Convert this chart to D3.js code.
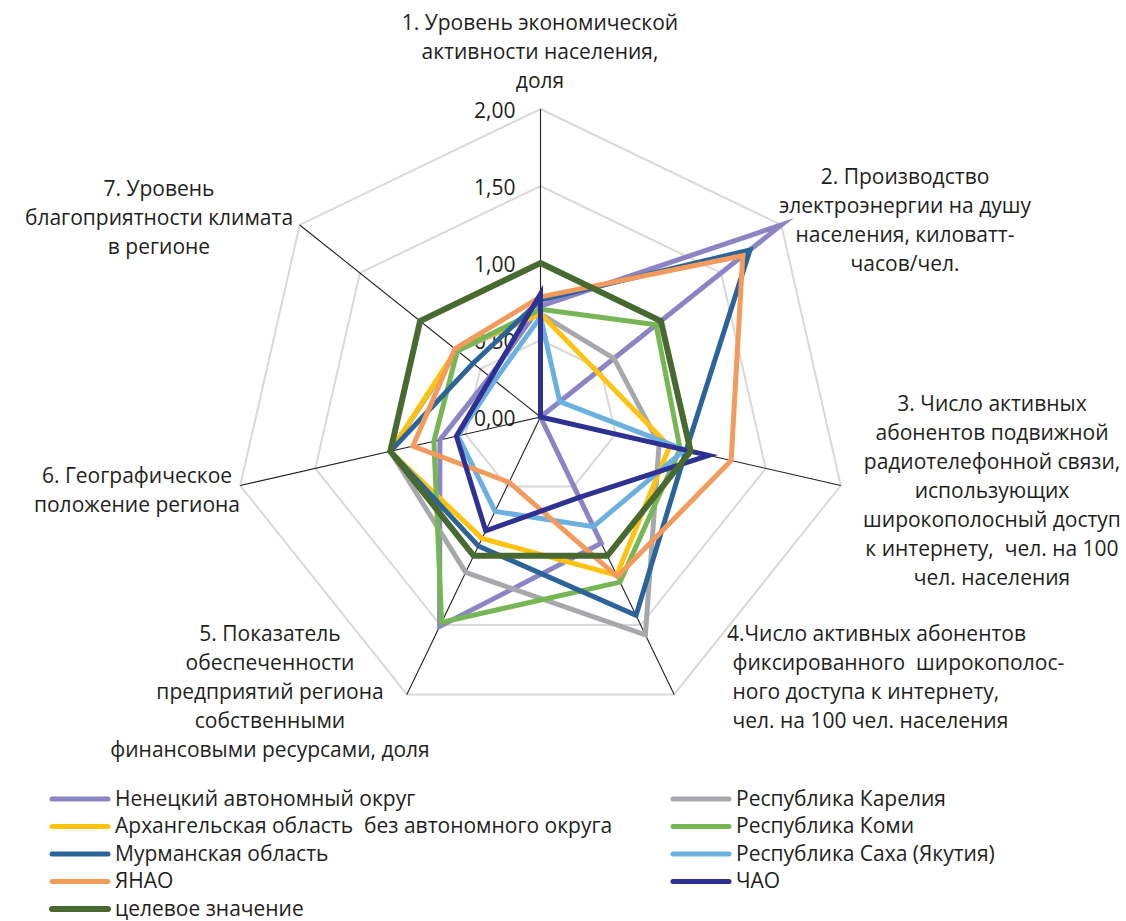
<!DOCTYPE html>
<html><head><meta charset="utf-8">
<script src="https://cdn.jsdelivr.net/npm/d3@7"></script>
<style>
body{margin:0;background:#fff;}
svg text{font-family:"Open Sans",sans-serif;fill:#231f20;white-space:pre;}
</style></head><body>
<svg id="chart" width="1126" height="921"></svg>
<script>
// ---- data ----
const categories = [
  ["1. Уровень экономической","активности населения,","доля"],
  ["2. Производство","электроэнергии на душу","населения, киловатт-","часов/чел."],
  ["3. Число активных","абонентов подвижной","радиотелефонной связи,","использующих","широкополосный доступ","к интернету,  чел. на 100","чел. населения"],
  ["4.Число активных абонентов"," фиксированного  широкополос-"," ного доступа к интернету,"," чел. на 100 чел. населения"],
  ["5. Показатель","обеспеченности","предприятий региона","собственными","финансовыми ресурсами, доля"],
  ["6. Географическое","положение региона"],
  ["7. Уровень","благоприятности климата","в регионе"]
];
const seriesNames = ["Ненецкий автономный округ","Республика Карелия","Архангельская область  без автономного округа","Республика Коми","Мурманская область","Республика Саха (Якутия)","ЯНАО","ЧАО","целевое значение"];
const nao       = [0.72, 2.00, 0.00, 0.91, 1.51, 0.67, 0.42];
const karelia   = [0.67, 0.61, 0.79, 1.57, 1.12, 1.00, 0.69];
const arkh      = [0.67, 0.47, 0.86, 1.14, 0.875, 1.00, 0.70];
const komi      = [0.70, 0.96, 0.93, 1.19, 1.48, 0.71, 0.69];
const murmansk  = [0.76, 1.74, 0.97, 1.43, 0.93, 1.00, 0.56];
const sakha     = [0.65, 0.16, 0.96, 0.79, 0.68, 0.55, 0.38];
const yanao     = [0.78, 1.68, 1.27, 1.15, 0.47, 0.85, 0.71];
const chao      = [0.80, 0.00, 1.12, 0.58, 0.82, 0.56, 0.41];
const target    = [1.00, 1.00, 1.00, 1.00, 1.00, 1.00, 1.00];
const tickValues = [0, 0.5, 1, 1.5, 2];
const tickLabels = ["0,00","0,50","1,00","1,50","2,00"];

// ---- styles / layout ----
const seriesValues = [nao, karelia, arkh, komi, murmansk, sakha, yanao, chao, target];
const colors = ["#8c85c3","#a6a8ab","#ffc20e","#77b655","#2c6499","#6cb0e0","#f39a5d","#2e3192","#486a31"];
const widths = [5,5,5,5,5,5,5,5,6];
const cx = 540.5, cy = 417, R = 308;
const labelLayout = [
  {x:540, y:30,  anchor:"middle"},
  {x:905, y:184, anchor:"middle"},
  {x:992, y:411, anchor:"middle"},
  {x:727, y:641, anchor:"start"},
  {x:270, y:641, anchor:"middle"},
  {x:137, y:483, anchor:"middle"},
  {x:159, y:196, anchor:"middle"}
];
const lineH = 29;
const fontSize = 21;

const svg = d3.select("#chart");
const g = svg.append("g").attr("transform", `translate(${cx},${cy})`);
const r = d3.scaleLinear().domain([0, 2]).range([0, R]);
const n = categories.length;
const ang = d3.scaleLinear().domain([0, n]).range([0, 2*Math.PI]);

// grid polygons
const gridLine = d3.lineRadial().angle((d,i)=>ang(i)).radius(d=>r(d)).curve(d3.curveLinearClosed);
g.selectAll("path.grid").data(tickValues.filter(v=>v>0)).enter().append("path")
  .attr("class","grid")
  .attr("d", v => gridLine(d3.range(n).map(()=>v)))
  .attr("fill","none").attr("stroke","#d9d9d9").attr("stroke-width",2);

// axes
g.selectAll("line.axis").data(d3.range(n)).enter().append("line")
  .attr("x1",0).attr("y1",0)
  .attr("x2", i => r(2)*Math.sin(ang(i)))
  .attr("y2", i => -r(2)*Math.cos(ang(i)))
  .attr("stroke","#231f20").attr("stroke-width",1.1);

// tick labels
g.selectAll("text.tick").data(tickValues).enter().append("text")
  .attr("x",-25).attr("y", v => -r(v) + 2)
  .attr("dy","0.35em").attr("text-anchor","end")
  .style("font-size", fontSize+"px")
  .text((v,i)=>tickLabels[i]);

// series
const line = d3.lineRadial().angle((d,i)=>ang(i)).radius(d=>r(d)).curve(d3.curveLinearClosed);
g.selectAll("path.series").data(seriesValues).enter().append("path")
  .attr("class","series")
  .attr("d", d => line(d))
  .attr("fill","none")
  .attr("stroke",(d,i)=>colors[i])
  .attr("stroke-width",(d,i)=>widths[i])
  .attr("stroke-linejoin","miter").attr("stroke-miterlimit",10);

// category labels
categories.forEach((lines, i) => {
  const L = labelLayout[i];
  const t = svg.append("text").attr("text-anchor", L.anchor).style("font-size", fontSize+"px");
  lines.forEach((s, k) => {
    t.append("tspan").attr("x", L.x).attr("y", L.y + k*lineH).text(s);
  });
});

// legend (row-wise, two columns)
const legCol = [52, 673], legRow0 = 799, legStep = 27.5, legLineLen = 56;
const leg = svg.append("g");
seriesNames.forEach((name, i) => {
  const col = i % 2, row = Math.floor(i / 2);
  const x = legCol[col], y = legRow0 + row*legStep;
  leg.append("line").attr("x1", x).attr("x2", x+legLineLen).attr("y1", y).attr("y2", y)
    .attr("stroke", colors[i]).attr("stroke-width", widths[i]).attr("stroke-linecap","round");
  leg.append("text").attr("x", x+legLineLen+7).attr("y", y).attr("dy","0.32em")
    .style("font-size", fontSize+"px").text(name);
});
</script>
</body></html>
